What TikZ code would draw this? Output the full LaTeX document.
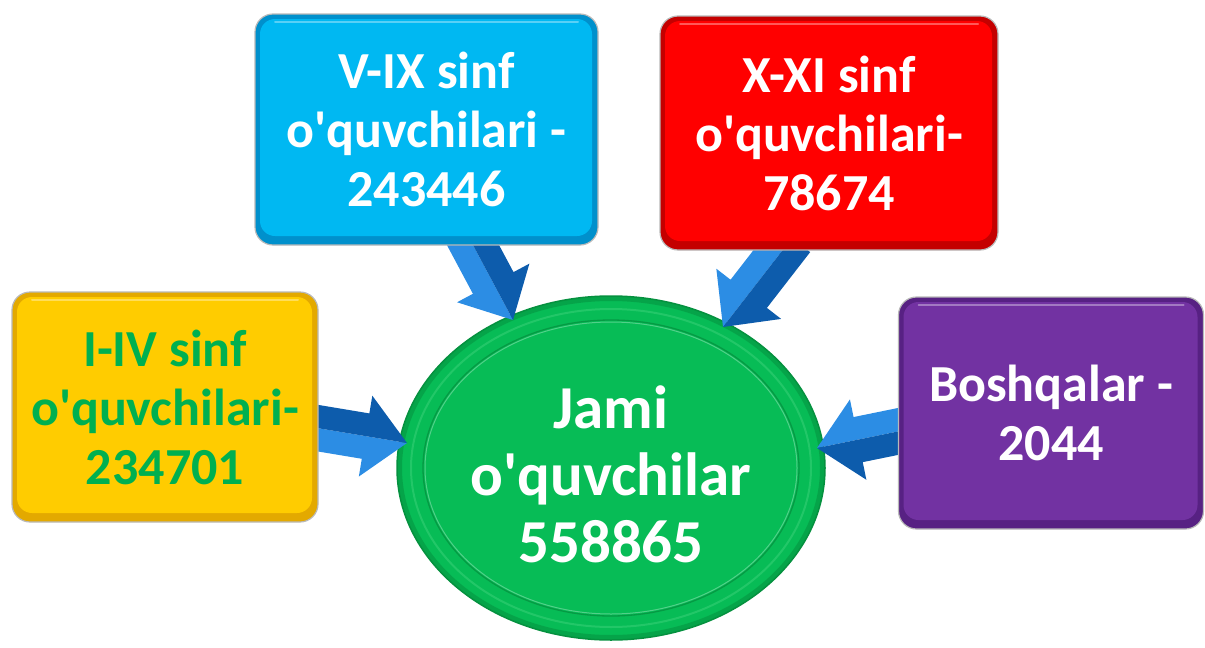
\documentclass[tikz,border=0pt]{standalone}
\usepackage{fontspec}
\setmainfont{Carlito}
\usetikzlibrary{calc,shapes.geometric}
\definecolor{yel}{HTML}{FFCC00}
\definecolor{yeldark}{HTML}{E3A900}
\definecolor{grn}{HTML}{00B050}
\definecolor{sky}{HTML}{00B8F2}
\definecolor{skydark}{HTML}{0090CC}
\definecolor{rd}{HTML}{FF0000}
\definecolor{rddark}{HTML}{C40000}
\definecolor{pur}{HTML}{7232A2}
\definecolor{purdark}{HTML}{572183}
\definecolor{ell}{HTML}{07BC56}
\definecolor{elldark}{HTML}{05913F}
\definecolor{elllight}{HTML}{34CF74}
\definecolor{arrlight}{HTML}{2C8DE4}
\definecolor{arrdark}{HTML}{0D5CAC}
\newcommand{\blockarrow}[2]{%
  \coordinate (hb) at ($(#2)!42pt!(#1)$);
  \fill[arrlight] (#1) -- ($(#1)!23pt!-90:(#2)$) -- ($(hb)!23pt!-90:(#2)$) -- ($(hb)!41pt!-90:(#2)$) -- (#2) -- (hb) -- cycle;
  \fill[arrdark] (#1) -- ($(#1)!23pt!90:(#2)$) -- ($(hb)!23pt!90:(#2)$) -- ($(hb)!41pt!90:(#2)$) -- (#2) -- (hb) -- cycle;
}
\tikzset{
  bevelbox/.style 2 args={draw=gray!55, line width=1.2pt, fill=#2, rounded corners=18pt,
    inner sep=0pt, align=center, font=\bfseries\fontsize{52}{59}\selectfont,
    path picture={
      \fill[#1, rounded corners=15pt] ([shift={(5pt,-5pt)}]path picture bounding box.north west)
        rectangle ([shift={(-6pt,9pt)}]path picture bounding box.south east);
      \draw[white, opacity=0.35, line width=2pt, line cap=round]
        ([shift={(20pt,-8pt)}]path picture bounding box.north west) --
        ([shift={(-20pt,-8pt)}]path picture bounding box.north east);
    }},
  total/.style={ellipse, draw=elldark, line width=1.5pt, fill=ell, inner sep=0pt,
    minimum width=428pt, minimum height=344pt, text=white, align=center,
    font=\bfseries\fontsize{61}{67}\selectfont,
    path picture={
      \draw[elldark, opacity=0.55, line width=10pt] (path picture bounding box.center) ellipse [x radius=214pt, y radius=172pt];
      \draw[elllight, opacity=0.6, line width=2pt] (path picture bounding box.center) ellipse [x radius=200pt, y radius=159pt];
      \draw[elldark!80!ell, line width=1.3pt] (path picture bounding box.center) ellipse [x radius=188pt, y radius=148pt];
      \draw[white, opacity=0.3, line width=1pt] (path picture bounding box.center) ellipse [x radius=186pt, y radius=146pt];
    }}
}
\begin{document}
\begin{tikzpicture}[x=1pt,y=-1pt]
\useasboundingbox (0,0) rectangle (1205,648);
\node[total] (tot) at (611,468) {\rule{0pt}{56pt}Jami\\o\textquotesingle quvchilar\\558865};
% connector end points
\coordinate (t1) at (305,426);
\coordinate (h1) at (407,443);
\coordinate (t2) at (466,232);
\coordinate (h2) at (513,320);
\coordinate (t3) at (792,238);
\coordinate (h3) at (723,327);
\coordinate (t4) at (910,429);
\coordinate (h4) at (817,448);
\blockarrow{t1}{h1}
\blockarrow{t2}{h2}
\blockarrow{t3}{h3}
\blockarrow{t4}{h4}
\node[bevelbox={yel}{yeldark}, minimum width=306pt, minimum height=230pt, text=grn] (yb) at (165,407)
  {I-IV sinf\\o\textquotesingle quvchilari-\\234701};
\node[bevelbox={sky}{skydark}, minimum width=343pt, minimum height=231pt, text=white] (bb) at (426.5,129.5)
  {V-IX sinf\\o\textquotesingle quvchilari -\\243446};
\node[bevelbox={rd}{rddark}, minimum width=338pt, minimum height=234pt, text=white] (rb) at (829,133)
  {X-XI sinf\\o\textquotesingle quvchilari-\\78674};
\node[bevelbox={pur}{purdark}, minimum width=305pt, minimum height=232pt, text=white] (pb) at (1051,413)
  {Boshqalar -\\2044};
\end{tikzpicture}
\end{document}
